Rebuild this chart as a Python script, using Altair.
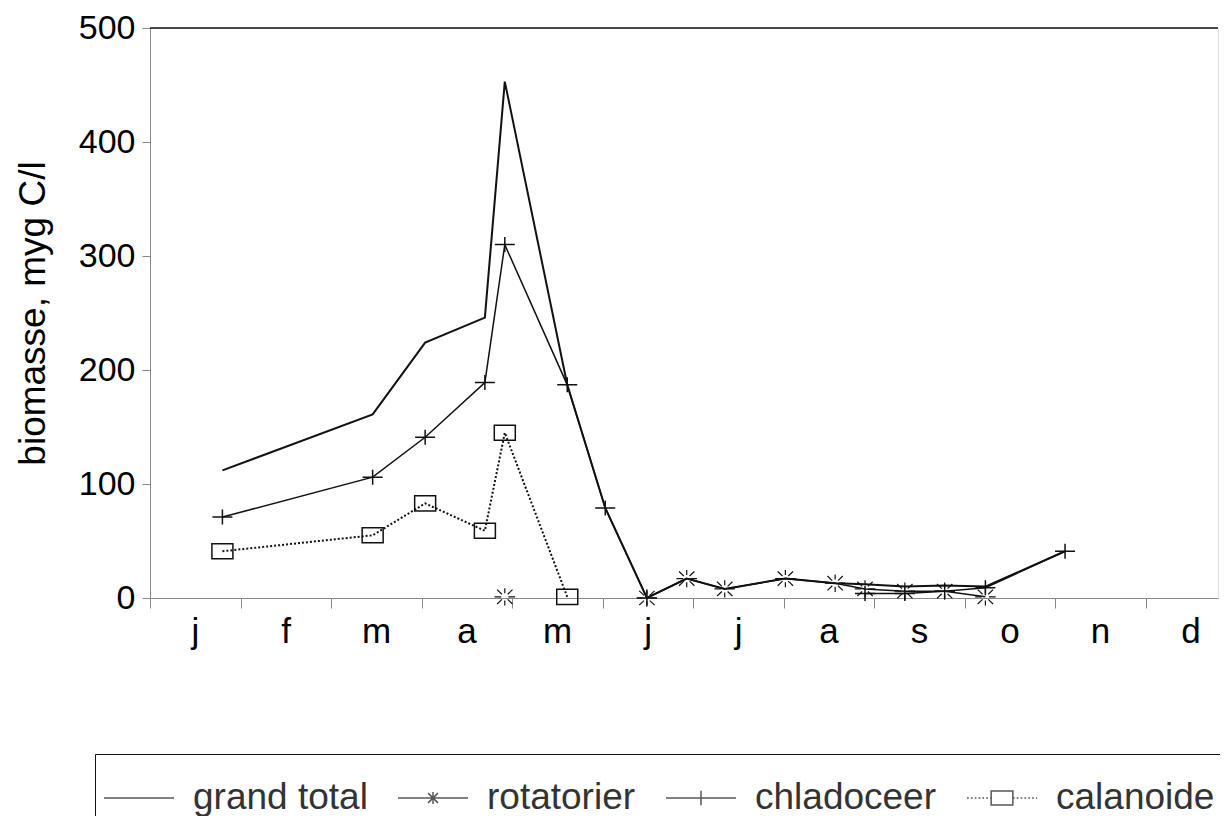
import json
import altair as alt
import pandas as pd

# ---------------- data ----------------
months = ["j", "f", "m", "a", "m", "j", "j", "a", "s", "o", "n", "d"]
series_names = ["grand total", "rotatorier", "chladoceer", "calanoide"]

# x = position in months (0 = 1 Jan, 1 = 1 Feb, ...)
total_x = [0.80, 2.46, 3.04, 3.70, 3.92, 4.61, 5.03, 5.49, 5.93, 6.35, 7.02, 7.57, 7.90, 8.34, 8.78, 9.23, 10.11]
total_y = [112, 161, 224, 246, 453, 187, 79, 0, 17, 8, 17, 13, 12, 10, 11, 10, 41]

rot_x = [3.92, 5.49, 5.93, 6.35, 7.02, 7.57, 7.90, 8.34, 8.78, 9.23]
rot_y = [1, 0, 17, 8, 17, 13, 8, 6, 6, 1]
rot_seg = [0, 1, 1, 1, 1, 1, 1, 1, 1, 1]

chl_x = [0.80, 2.46, 3.04, 3.70, 3.92, 4.61, 5.03, 5.49, 7.90, 8.34, 8.78, 9.23, 10.11]
chl_y = [71, 106, 141, 189, 310, 187, 79, 0, 4, 4, 6, 9, 41]
chl_seg = [0, 0, 0, 0, 0, 0, 0, 0, 1, 1, 1, 1, 1]

cal_x = [0.80, 2.46, 3.04, 3.70, 3.92, 4.61]
cal_y = [41, 55, 83, 59, 145, 1]

y_ticks = [0, 100, 200, 300, 400, 500]
x_ticks = list(range(12))

# ---------------- tables ----------------
def frame(name, xs, ys, seg=None):
    return pd.DataFrame({"series": name, "x": xs, "y": ys,
                         "seg": seg if seg is not None else [0] * len(xs)})

df_total = frame("grand total", total_x, total_y)
df_rot = frame("rotatorier", rot_x, rot_y, rot_seg)
df_chl = frame("chladoceer", chl_x, chl_y, chl_seg)
df_cal = frame("calanoide", cal_x, cal_y)
df_legend = pd.DataFrame({"series": series_names})

FONT = "Liberation Sans"
INK = "#111111"
TEXT = "#333333"

# ---------------- marker shapes ----------------
PLUS = "M-1,0L1,0M0,-0.75L0,0.75"
SQUARE = "M-1,-0.72L1,-0.72L1,0.72L-1,0.72Z"
STAR = ("M-1,0L-0.35,0M0.35,0L1,0M0,-0.85L0,-0.35M0,0.35L0,0.85"
        "M-0.75,-0.7L-0.28,-0.25M0.28,0.25L0.75,0.7"
        "M-0.75,0.7L-0.28,0.25M0.28,-0.25L0.75,-0.7")

# legend symbols: line segment with the marker in the middle
def dotted(a, b, step=0.11, dot=0.05):
    parts = []
    t = a
    while t < b:
        parts.append(f"M{t:.3f},0L{min(t + dot, b):.3f},0")
        t += step
    return "".join(parts)

LEG_TOTAL = "M-1,0L1,0"
LEG_ROT = "M-1,0L1,0M0,-0.17L0,0.17M-0.14,-0.14L0.14,0.14M-0.14,0.14L0.14,-0.14"
LEG_CHL = "M-1,0L1,0M0,-0.21L0,0.21"
LEG_CAL = dotted(-1, -0.31) + "M-0.31,-0.2L0.31,-0.2L0.31,0.2L-0.31,0.2Z" + dotted(0.31, 1)
legend_paths = [LEG_TOTAL, LEG_ROT, LEG_CHL, LEG_CAL]

# ---------------- encodings ----------------
x_enc = alt.X(
    "x:Q",
    scale=alt.Scale(domain=[0, 11.8], nice=False, zero=False),
    axis=alt.Axis(
        values=x_ticks,
        labelExpr=f"{json.dumps(months)}[datum.value]",
        labelOffset=45,
        labelFlush=False,
        tickSize=10,
        labelPadding=6,
        labelFontSize=35,
        title=None,
        grid=False,
    ),
)
y_enc = alt.Y(
    "y:Q",
    scale=alt.Scale(domain=[0, 500], nice=False),
    axis=alt.Axis(
        values=y_ticks,
        tickSize=8,
        labelPadding=7,
        labelFontSize=34,
        title="biomasse, myg C/l",
        titleFontSize=37,
        titleFontWeight="normal",
        titlePadding=26,
        grid=False,
    ),
)

def line(df, width, dash=None):
    kw = dict(color=INK, strokeWidth=width)
    if dash:
        kw["strokeDash"] = dash
    return alt.Chart(df).mark_line(**kw).encode(
        x=x_enc, y=y_enc, detail="seg:N", order="x:Q"
    )

def points(df, shape, size, width=1.5):
    return alt.Chart(df).mark_point(
        shape=shape, size=size, filled=False, color=INK, strokeWidth=width, opacity=1
    ).encode(x=x_enc, y=y_enc)

top_rule = alt.Chart(pd.DataFrame({"y": [500]})).mark_rule(color=INK, strokeWidth=1.5).encode(
    y=alt.Y("y:Q", scale=alt.Scale(domain=[0, 500], nice=False))
)

legend_layer = alt.Chart(df_legend).mark_point(filled=False, color=INK, strokeWidth=1.5).encode(
    x=alt.value(-900),
    y=alt.value(-900),
    shape=alt.Shape(
        "series:N",
        scale=alt.Scale(domain=series_names, range=legend_paths),
        legend=alt.Legend(
            title=None,
            orient="none",
            direction="horizontal",
            legendX=-55,
            legendY=726,
            padding=8,
            strokeColor=INK,
            symbolSize=4900,
            symbolStrokeWidth=1.5,
            symbolStrokeColor=INK,
            symbolFillColor="transparent",
            labelFontSize=37,
            labelFont=FONT,
            labelColor=TEXT,
            labelOffset=18,
            columnPadding=27,
            labelLimit=400,
        ),
    ),
)

chart = alt.layer(
    top_rule,
    line(df_total, 2.0),
    line(df_chl, 1.5),
    line(df_rot, 1.5),
    line(df_cal, 2.0, dash=[2, 2]),
    points(df_chl, PLUS, 400),
    points(df_rot, STAR, 420, 1.2),
    points(df_cal, SQUARE, 441),
    legend_layer,
).properties(
    width=1068,
    height=570,
    padding={"left": 142, "top": 20, "right": 2, "bottom": 218},
    autosize=alt.AutoSizeParams(type="none"),
).configure_view(
    stroke=None
).configure_axis(
    domainColor=INK,
    domainWidth=1.5,
    tickColor=INK,
    tickWidth=1.5,
    labelColor=TEXT,
    titleColor=TEXT,
    labelFont=FONT,
    titleFont=FONT,
).configure(
    background="white"
)

chart.save("out.html", embed_options={"renderer": "svg", "actions": False})
